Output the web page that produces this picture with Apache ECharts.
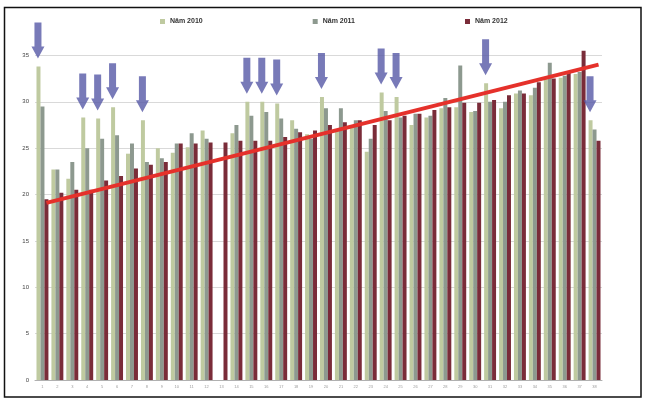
<!DOCTYPE html>
<html>
<head>
<meta charset="utf-8">
<script src="https://cdn.jsdelivr.net/npm/echarts@6/dist/echarts.min.js"></script>
<style>
  html, body { margin: 0; padding: 0; background: #ffffff; }
  #chart { width: 650px; height: 403px; }
</style>
</head>
<body>
<div id="chart"></div>
<script>
// Category labels along the x axis
const categories = ['1','2','3','4','5','6','7','8','9','10','11','12','13','14','15','16','17','18','19',
  '20','21','22','23','24','25','26','27','28','29','30','31','32','33','34','35','36','37','38'];

// Series names shown in the legend
const seriesNames = ['Năm 2010', 'Năm 2011', 'Năm 2012'];

// Values per category for each year
const values2010 = [33.8, 22.7, 21.7, 28.3, 28.2, 29.4, 24.4, 28.0, 25.0, 24.5, 25.1, 26.9, null, 26.6,
  30.0, 30.0, 29.8, 28.0, 26.5, 30.5, 27.0, 27.5, 24.6, 31.0, 30.5, 27.5, 28.3, 29.3, 29.4, 28.9,
  32.0, 29.3, 30.9, 30.7, 32.6, 32.6, 33.0, 28.0];
const values2011 = [29.5, 22.7, 23.5, 25.0, 26.0, 26.4, 25.5, 23.5, 23.9, 25.5, 26.6, 26.0, null, 27.5,
  28.5, 28.9, 28.2, 27.1, 26.0, 29.3, 29.3, 28.0, 26.0, 29.0, 28.3, 28.7, 28.5, 30.4, 33.9, 29.0,
  30.0, 30.0, 31.2, 31.5, 34.2, 32.8, 33.2, 27.0];
const values2012 = [19.5, 20.2, 20.5, 20.5, 21.5, 22.0, 22.8, 23.2, 23.5, 25.5, 25.5, 25.6, 25.6, 25.8,
  25.8, 25.8, 26.2, 26.7, 26.9, 27.5, 27.8, 28.0, 27.5, 28.0, 28.5, 28.7, 29.1, 29.4, 29.9, 29.9,
  30.2, 30.7, 30.9, 32.1, 32.5, 33.2, 35.5, 25.8];

// Categories flagged with a downward arrow (over the 2010 bar)
const flaggedCategories = [0, 3, 4, 5, 7, 14, 15, 16, 19, 23, 24, 30, 37];

// Trend line end values
const trendStart = 19.1;
const trendEnd = 34.0;

// Y axis ticks
const yTicks = [0, 5, 10, 15, 20, 25, 30, 35];

const colors = ['#bfcaa0', '#8d998f', '#7a2c39'];

const arrowPath = 'path://M3,0 L10,0 L10,24 L13,24 L6.5,36 L0,24 L3,24 Z';

const chart = echarts.init(document.getElementById('chart'), null, { renderer: 'canvas' });

const barSeries = [values2010, values2011, values2012].map((vals, k) => ({
  name: seriesNames[k],
  type: 'bar',
  data: vals,
  barGap: '0%',
  barCategoryGap: '20%',
  itemStyle: { color: colors[k] },
  emphasis: { disabled: true },
  z: 2
}));

// Trend line drawn on the last bar series
barSeries[2].markLine = {
  silent: true,
  symbol: ['none', 'none'],
  label: { show: false },
  lineStyle: { color: '#e5312b', width: 4, type: 'solid' },
  data: [[
    { coord: [categories[0], trendStart] },
    { coord: [categories[categories.length - 1], trendEnd] }
  ]],
  z: 5
};

const arrowSeries = {
  name: 'arrows',
  type: 'scatter',
  symbol: arrowPath,
  symbolSize: [13, 36],
  symbolKeepAspect: false,
  symbolOffset: [-4.5, -26],
  itemStyle: { color: '#5659a6' },
  data: flaggedCategories.map(i => [categories[i], values2010[i]]),
  silent: true,
  z: 6
};

chart.setOption({
  animation: false,
  backgroundColor: '#ffffff',
  textStyle: { fontFamily: 'Liberation Sans, DejaVu Sans, sans-serif' },
  grid: { left: 35, right: 48, top: 9, bottom: 23, containLabel: false },
  legend: {
    data: seriesNames,
    left: 160,
    top: 18,
    padding: 0,
    itemWidth: 5,
    itemHeight: 5,
    itemGap: 110,
    icon: 'rect',
    textStyle: { fontSize: 7, fontWeight: 'bold', color: '#333' },
    selectedMode: false
  },
  xAxis: {
    type: 'category',
    data: categories,
    axisLine: { show: true, lineStyle: { color: '#b0b0b0', width: 1 } },
    axisTick: { show: false },
    axisLabel: { interval: 0, fontSize: 4, color: '#9a9a9a', margin: 5 }
  },
  yAxis: {
    type: 'value',
    min: 0,
    max: 40,
    interval: 5,
    axisLine: { show: false },
    axisTick: { show: false },
    axisLabel: {
      fontSize: 6,
      color: '#444',
      margin: 6,
      formatter: v => (yTicks.indexOf(v) >= 0 ? String(v) : '')
    },
    splitLine: { show: true, showMaxLine: false, lineStyle: { color: '#d9d9d9', width: 1 } }
  },
  series: [...barSeries, arrowSeries],
  graphic: [{
    type: 'rect',
    shape: { x: 4.5, y: 7.5, width: 636.5, height: 389.5 },
    style: { fill: 'none', stroke: '#111', lineWidth: 1.5 },
    silent: true,
    z: 100
  }]
});
</script>
</body>
</html>
